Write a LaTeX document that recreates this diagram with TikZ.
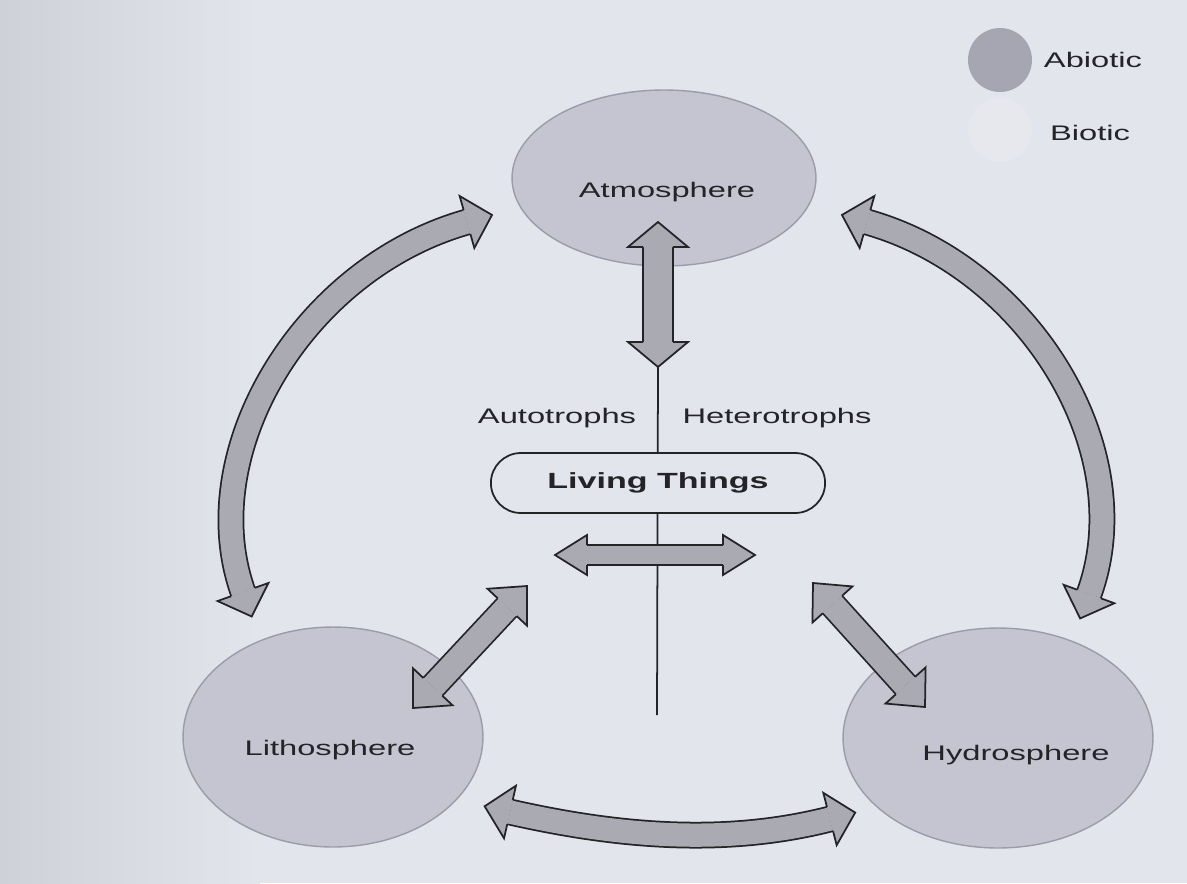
\documentclass[tikz,border=0pt]{standalone}
\usepackage{fontspec}
\setsansfont{Liberation Sans}[FakeStretch=1.55]
\usetikzlibrary{calc,shapes.geometric,shapes.misc}
\definecolor{paper}{RGB}{227,229,236}
\definecolor{paperdark}{RGB}{207,209,217}
\definecolor{spherefill}{RGB}{196,197,208}
\definecolor{sphererim}{RGB}{155,156,168}
\definecolor{dotfill}{RGB}{165,166,177}
\definecolor{flowgray}{RGB}{170,170,178}
\definecolor{inkgray}{RGB}{35,35,40}
\tikzset{
  sphere/.style={ellipse,fill=spherefill,draw=sphererim,line width=0.8pt,inner sep=0pt},
  spheretext/.style={font=\sffamily\fontsize{12}{14}\selectfont,text=inkgray},
  living/.style={rounded rectangle,draw=inkgray,line width=1pt,fill=paper,
                 minimum width=6.92cm,minimum height=1.2cm,
                 font=\sffamily\bfseries\fontsize{12.5}{15}\selectfont,text=inkgray},
  axisline/.style={draw=inkgray,line width=1pt},
  flowshaft/.style={draw=inkgray,line width=1pt,double=flowgray},
  flowedge/.style={draw=inkgray,line width=1pt,line join=miter},
}
% head of a block arrow: base point, point behind it, half head width, half shaft width, head length
\newcommand{\flowhead}[5]{%
  \fill[flowgray] ($(#1)!#3!90:(#2)$) -- ($(#1)!-#5!(#2)$) -- ($(#1)!#3!-90:(#2)$) -- cycle;
  \draw[flowedge] ($(#1)!#4!90:(#2)$) -- ($(#1)!#3!90:(#2)$) -- ($(#1)!-#5!(#2)$)
    -- ($(#1)!#3!-90:(#2)$) -- ($(#1)!#4!-90:(#2)$);
}
% straight block arrow: tip, tip, shaft gap, half shaft width, half head width, head length
\newcommand{\flowline}[6]{%
  \coordinate (fa) at ($(#1)!#6!(#2)$);
  \coordinate (fb) at ($(#2)!#6!(#1)$);
  \draw[flowshaft,double distance=#3] (fa) -- (fb);
  \flowhead{fa}{fb}{#5}{#4}{#6}
  \flowhead{fb}{fa}{#5}{#4}{#6}
}
\begin{document}
\begin{tikzpicture}[x=0.02cm,y=-0.02cm]
  \useasboundingbox (0,0) rectangle (1187,883);
  \fill[paper] (0,0) rectangle (1187,883);
  \shade[left color=paperdark,right color=paper] (0,0) rectangle (260,883);
  % spheres
  \node[sphere,minimum width=6.08cm,minimum height=3.52cm] (atmo) at (664,178) {};
  \node[sphere,minimum width=6cm,minimum height=4.4cm] (litho) at (333,737) {};
  \node[sphere,minimum width=6.2cm,minimum height=4.4cm] (hydro) at (998,738) {};
  \node[spheretext] (atmotext) at (667,192) {Atmosphere};
  \node[spheretext] (lithotext) at (330,750) {Lithosphere};
  \node[spheretext] (hydrotext) at (1016,755) {Hydrosphere};
  % legend
  \node[circle,fill=dotfill,minimum size=1.28cm,inner sep=0pt] (abioticdot) at (1000,60) {};
  \node[circle,fill=white,opacity=0.15,minimum size=1.28cm,inner sep=0pt] (bioticdot) at (1000,130) {};
  \node[spheretext] (abiotic) at (1093,60) {Abiotic};
  \node[spheretext] (biotic) at (1090,133) {Biotic};
  % centre axis
  \coordinate (atmoup) at (658,222);
  \coordinate (atmodown) at (658,367);
  \coordinate (axisend) at (657,715);
  \draw[axisline] (atmodown) -- (axisend);
  \node[spheretext] (auto) at (557,418) {Autotrophs};
  \node[spheretext] (hetero) at (777,418) {Heterotrophs};
  \node[living] (living) at (658,483) {Living Things};
  % straight exchanges
  \coordinate (hleft) at (555,555);
  \coordinate (hright) at (755,555);
  \coordinate (lithotip) at (413,708);
  \coordinate (livingsw) at (527,586);
  \coordinate (livingse) at (813,583);
  \coordinate (hydrotip) at (925,707);
  \flowline{atmoup}{atmodown}{0.565cm}{0.3cm}{0.6cm}{0.5cm}
  \flowline{hleft}{hright}{0.365cm}{0.2cm}{0.4cm}{0.64cm}
  \flowline{lithotip}{livingsw}{0.485cm}{0.26cm}{0.54cm}{0.58cm}
  \flowline{livingse}{hydrotip}{0.485cm}{0.26cm}{0.54cm}{0.58cm}
  % cycle arcs
  \coordinate (lbase) at (243,592);
  \coordinate (lc1) at (193,451);
  \coordinate (lc2) at (304,268);
  \coordinate (ltop) at (467,222);
  \coordinate (rbase) at (1089,594);
  \coordinate (rc1) at (1141,451);
  \coordinate (rc2) at (1030,268);
  \coordinate (rtop) at (867,222);
  \coordinate (bleft) at (510,812);
  \coordinate (bc1) at (616,836);
  \coordinate (bc2) at (724,846);
  \coordinate (bright) at (830,819);
  \draw[flowshaft,double distance=0.465cm] (lbase) .. controls (lc1) and (lc2) .. (ltop);
  \flowhead{lbase}{lc1}{0.54cm}{0.25cm}{0.52cm}
  \flowhead{ltop}{lc2}{0.54cm}{0.25cm}{0.52cm}
  \draw[flowshaft,double distance=0.465cm] (rbase) .. controls (rc1) and (rc2) .. (rtop);
  \flowhead{rbase}{rc1}{0.54cm}{0.25cm}{0.52cm}
  \flowhead{rtop}{rc2}{0.54cm}{0.25cm}{0.52cm}
  \draw[flowshaft,double distance=0.465cm] (bleft) .. controls (bc1) and (bc2) .. (bright);
  \flowhead{bleft}{bc1}{0.54cm}{0.25cm}{0.52cm}
  \flowhead{bright}{bc2}{0.54cm}{0.25cm}{0.52cm}
\end{tikzpicture}
\end{document}
